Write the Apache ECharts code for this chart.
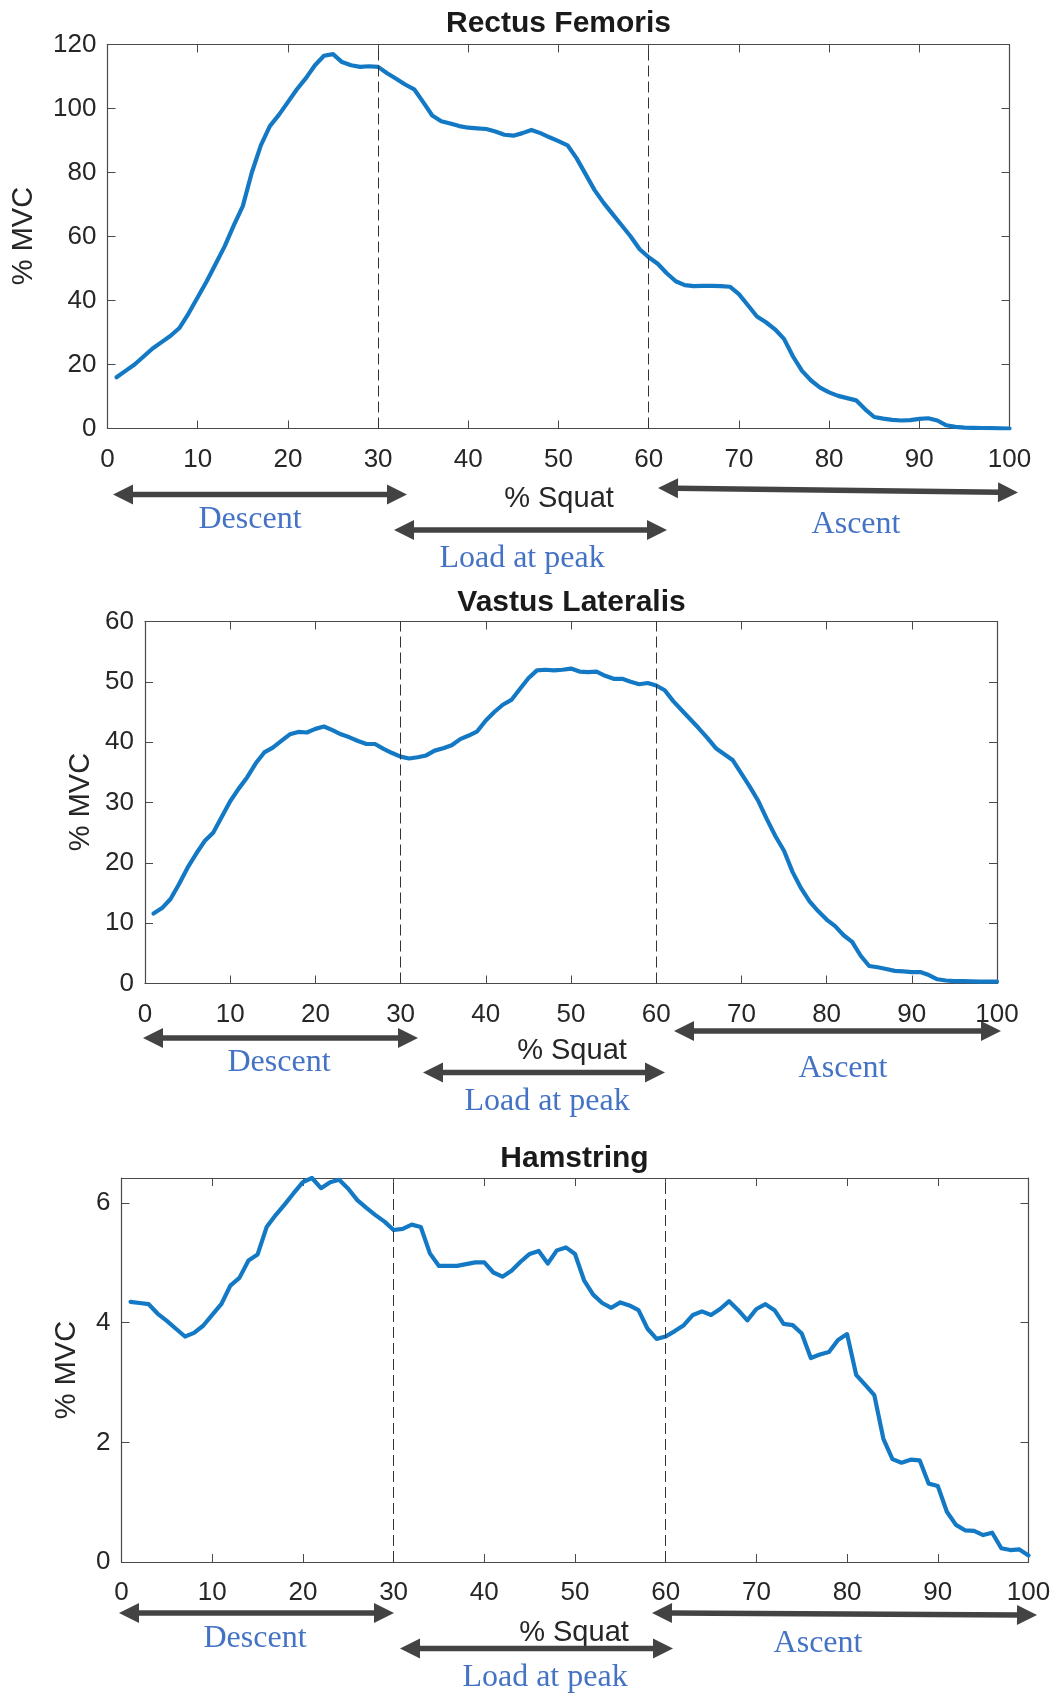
<!DOCTYPE html>
<html>
<head>
<meta charset="utf-8">
<script src="https://cdn.jsdelivr.net/npm/echarts@6/dist/echarts.min.js"></script>
<style>
  html, body { margin: 0; padding: 0; background: #ffffff; }
  #chart { width: 1054px; height: 1695px; }
</style>
</head>
<body>
<div id="chart"></div>
<script>
// Muscle activation (% MVC) sampled at 1..100 % of the squat cycle
const squatPercent = Array.from({ length: 100 }, (_, i) => i + 1);

const rectusFemoris = [
  16, 18, 20, 22.5, 25, 27, 29, 31.5, 36, 41,
  46, 51.5, 57, 63.5, 69.5, 80, 88.5, 94.5, 98, 102,
  106, 109.5, 113.5, 116.5, 117, 114.5, 113.5, 113, 113.2, 113,
  111, 109.3, 107.5, 106, 102, 97.8, 96, 95.3, 94.5, 94,
  93.8, 93.6, 92.8, 91.8, 91.5, 92.3, 93.3, 92.3, 91, 89.8,
  88.5, 84.5, 79.5, 74.5, 70.5, 67, 63.5, 60, 56, 53.5,
  51.5, 48.5, 46, 44.8, 44.5, 44.6, 44.6, 44.5, 44.3, 42,
  38.5, 35, 33.2, 31, 28, 22.5, 18, 15, 12.8, 11.3,
  10.2, 9.5, 8.8, 6, 3.6, 3.1, 2.7, 2.5, 2.6, 3,
  3.2, 2.5, 1, 0.5, 0.3, 0.2, 0.15, 0.1, 0.05, 0
];

const vastusLateralis = [
  11.6, 12.5, 14.0, 16.5, 19.2, 21.5, 23.6, 25.0, 27.6, 30.2,
  32.3, 34.2, 36.5, 38.3, 39.1, 40.2, 41.3, 41.7, 41.6, 42.2,
  42.6, 42.0, 41.3, 40.8, 40.2, 39.7, 39.7, 38.9, 38.2, 37.6,
  37.3, 37.5, 37.8, 38.6, 39.0, 39.5, 40.5, 41.1, 41.8, 43.6,
  45.0, 46.2, 47.0, 48.8, 50.6, 51.9, 52.0, 51.9, 52.0, 52.2,
  51.7, 51.6, 51.7, 51.0, 50.5, 50.5, 50.0, 49.6, 49.8, 49.4,
  48.6, 46.8, 45.3, 43.8, 42.3, 40.7, 39.0, 38.0, 37.0, 34.8,
  32.6, 30.2, 27.2, 24.4, 22.0, 18.5, 15.8, 13.6, 12.0, 10.6,
  9.5, 8.0, 6.9, 4.6, 2.9, 2.7, 2.4, 2.1, 2.0, 1.9,
  1.9, 1.4, 0.7, 0.5, 0.4, 0.4, 0.35, 0.3, 0.3, 0.3
];

const hamstring = [
  4.35, 4.33, 4.31, 4.15, 4.03, 3.90, 3.77, 3.83, 3.95, 4.13,
  4.31, 4.62, 4.75, 5.04, 5.14, 5.60, 5.80, 5.98, 6.17, 6.35,
  6.42, 6.25, 6.35, 6.39, 6.24, 6.05, 5.92, 5.80, 5.69, 5.55,
  5.57, 5.64, 5.60, 5.16, 4.95, 4.95, 4.95, 4.98, 5.01, 5.01,
  4.84, 4.77, 4.87, 5.02, 5.15, 5.20, 4.99, 5.21, 5.26, 5.15,
  4.71, 4.47, 4.33, 4.25, 4.34, 4.29, 4.21, 3.90, 3.73, 3.77,
  3.86, 3.96, 4.13, 4.19, 4.13, 4.23, 4.36, 4.21, 4.04, 4.23,
  4.31, 4.21, 3.98, 3.96, 3.82, 3.41, 3.47, 3.51, 3.71, 3.81,
  3.13, 2.96, 2.79, 2.06, 1.72, 1.66, 1.71, 1.70, 1.31, 1.27,
  0.84, 0.62, 0.53, 0.52, 0.45, 0.49, 0.23, 0.20, 0.21, 0.11
];

const panelTitles = ['Rectus Femoris', 'Vastus Lateralis', 'Hamstring'];
const yRanges = [[0, 120, 20], [0, 60, 10], [0, 6.42, 2]];
const phaseBoundaries = [30, 60];
const phaseNames = ['Descent', 'Load at peak', 'Ascent'];
const xAxisName = '% Squat';
const yAxisName = '% MVC';

// ---- layout of the three panels ----
const panels = [
  {
    series: rectusFemoris,
    grid: { left: 107.5, top: 44.5, width: 902, height: 384 },
    title: [558.5, 24], yName: [24, 236], xName: [559, 499],
    arrows: [[113, 494.5, 407, 494.5], [394, 530, 667, 530], [658, 488, 1018, 492.5]],
    labels: [[250, 519.5], [522, 558.5], [856, 524.5]]
  },
  {
    series: vastusLateralis,
    grid: { left: 145, top: 621.5, width: 852, height: 362 },
    title: [571.5, 602.5], yName: [81, 802], xName: [572, 1051],
    arrows: [[143, 1038, 418, 1038], [423, 1072.5, 665, 1072.5], [674, 1031, 1001, 1031]],
    labels: [[279, 1063], [547, 1102], [843, 1068.5]]
  },
  {
    series: hamstring,
    grid: { left: 121.5, top: 1178, width: 907, height: 384 },
    title: [574.5, 1159], yName: [67, 1370], xName: [574, 1633],
    arrows: [[119, 1613, 394, 1613], [400, 1648.5, 673, 1648.5], [652, 1613, 1037, 1615]],
    labels: [[255, 1638.5], [545, 1677.5], [818, 1643.5]]
  }
];

const AXIS_COLOR = '#4a4a4a';
const TEXT_COLOR = '#262626';
const LINE_COLOR = '#1479c4';
const ARROW_COLOR = '#434343';
const NOTE_COLOR = '#4472c4';
const SANS = '"Liberation Sans", Arial, Helvetica, sans-serif';
const SERIF = '"Liberation Serif", "Times New Roman", serif';

function arrowGraphic(x1, y1, x2, y2) {
  const dx = x2 - x1, dy = y2 - y1, len = Math.hypot(dx, dy);
  const ux = dx / len, uy = dy / len, px = -uy, py = ux;
  const headLen = 20, headHalf = 10;
  const head = (tx, ty, sx, sy) => ({
    type: 'polygon', silent: true,
    shape: { points: [
      [tx, ty],
      [tx + sx * headLen + px * headHalf, ty + sy * headLen + py * headHalf],
      [tx + sx * headLen - px * headHalf, ty + sy * headLen - py * headHalf]
    ] },
    style: { fill: ARROW_COLOR }
  });
  return [
    {
      type: 'line', silent: true,
      shape: { x1: x1 + ux * (headLen - 2), y1: y1 + uy * (headLen - 2),
               x2: x2 - ux * (headLen - 2), y2: y2 - uy * (headLen - 2) },
      style: { stroke: ARROW_COLOR, lineWidth: 5.5 }
    },
    head(x1, y1, ux, uy),
    head(x2, y2, -ux, -uy)
  ];
}

function textGraphic(txt, x, y, font, fill, rotation) {
  return {
    type: 'text', silent: true, x: x, y: y, rotation: rotation || 0,
    style: { text: txt, font: font, fill: fill, align: 'center', verticalAlign: 'middle' }
  };
}

const grids = [], xAxes = [], yAxes = [], series = [], graphics = [];

panels.forEach((p, i) => {
  const [ymin, ymax, yint] = yRanges[i];
  grids.push(Object.assign({ containLabel: false }, p.grid));

  const tickStyle = { show: true, inside: true, length: 8, lineStyle: { color: AXIS_COLOR, width: 1 } };
  const lineStyle = { show: true, onZero: false, lineStyle: { color: AXIS_COLOR, width: 1.2 } };

  xAxes.push({
    type: 'value', gridIndex: i, position: 'bottom', min: 0, max: 100, interval: 10,
    axisLine: lineStyle, axisTick: tickStyle, splitLine: { show: false },
    axisLabel: { show: true, margin: 18, color: TEXT_COLOR, fontFamily: SANS, fontSize: 26 }
  });
  xAxes.push({
    type: 'value', gridIndex: i, position: 'top', min: 0, max: 100, interval: 10,
    axisLine: lineStyle, axisTick: tickStyle, splitLine: { show: false },
    axisLabel: { show: false }
  });
  yAxes.push({
    type: 'value', gridIndex: i, position: 'left', min: ymin, max: ymax, interval: yint,
    axisLine: lineStyle, axisTick: tickStyle, splitLine: { show: false },
    axisLabel: {
      show: true, margin: 11, color: TEXT_COLOR, fontFamily: SANS, fontSize: 26,
      formatter: v => (Math.abs(v / yint - Math.round(v / yint)) < 1e-6 ? String(v) : '')
    }
  });
  yAxes.push({
    type: 'value', gridIndex: i, position: 'right', min: ymin, max: ymax, interval: yint,
    axisLine: lineStyle, axisTick: tickStyle, splitLine: { show: false },
    axisLabel: { show: false }
  });

  series.push({
    type: 'line', xAxisIndex: 2 * i, yAxisIndex: 2 * i,
    data: squatPercent.map((x, k) => [x, p.series[k]]),
    showSymbol: false, smooth: false, silent: true, z: 3,
    lineStyle: { color: LINE_COLOR, width: 4.2, join: 'round', cap: 'round' },
    markLine: {
      silent: true, symbol: 'none', label: { show: false },
      lineStyle: { color: '#333333', width: 1, type: [11, 5] },
      data: phaseBoundaries.map(b => ({ xAxis: b }))
    }
  });

  graphics.push(textGraphic(panelTitles[i], p.title[0], p.title[1], 'bold 30px ' + SANS, '#1a1a1a'));
  graphics.push(textGraphic(yAxisName, p.yName[0], p.yName[1], '29px ' + SANS, TEXT_COLOR, Math.PI / 2));
  graphics.push(textGraphic(xAxisName, p.xName[0], p.xName[1], '29px ' + SANS, TEXT_COLOR));
  p.arrows.forEach(a => graphics.push(...arrowGraphic(a[0], a[1], a[2], a[3])));
  p.labels.forEach((l, k) => graphics.push(textGraphic(phaseNames[k], l[0], l[1], '32px ' + SERIF, NOTE_COLOR)));
});

const chart = echarts.init(document.getElementById('chart'), null, { renderer: 'canvas' });
chart.setOption({
  backgroundColor: '#ffffff',
  animation: false,
  grid: grids,
  xAxis: xAxes,
  yAxis: yAxes,
  series: series,
  graphic: graphics
});
</script>
</body>
</html>
